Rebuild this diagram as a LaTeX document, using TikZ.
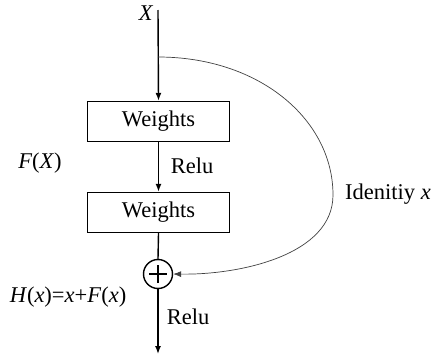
\documentclass[tikz,border=0pt]{standalone}
\usepackage{fontspec}
\setmainfont{Liberation Serif}
\usetikzlibrary{arrows.meta}
\begin{document}
\begin{tikzpicture}[x=1pt,y=-1pt,
  every node/.style={font=\fontsize{22.5}{26}\selectfont, inner sep=0pt},
  wbox/.style={draw, line width=1.4pt, minimum width=142pt, minimum height=40pt},
  sumnode/.style={draw, circle, line width=1.4pt, minimum size=29pt,
    path picture={\draw[line width=1.2pt] ([xshift=-9pt]path picture bounding box.center) -- ([xshift=9pt]path picture bounding box.center);
                  \draw[line width=1.2pt] ([yshift=-9pt]path picture bounding box.center) -- ([yshift=9pt]path picture bounding box.center);}},
  flow/.style={line width=1.4pt, -{Latex[length=8pt,width=6pt]}},
  skip/.style={line width=0.7pt, draw=black!75, -{Latex[length=8pt,width=6pt]}}]
\useasboundingbox (0,0) rectangle (432,362);
\node (x) at (146,13) {\textit{X}};
\coordinate (top) at (158,10);
\coordinate (split) at (158,57);
\node[wbox] (w1) at (158.5,121.5) {Weights};
\node[wbox] (w2) at (158.5,212.5) {Weights};
\node[sumnode] (sum) at (158,274) {};
\coordinate (out) at (158,354);
\draw[flow] (top) -- (w1.north);
\draw[flow] (w1.south) -- (w2.north);
\draw[line width=1.4pt] (w2.south) -- (sum.north);
\draw[flow] (sum.south) -- (out);
\draw[skip] (split) .. controls (260,57) and (333,120) .. (333,195)
  .. controls (333,255) and (240,275) .. (sum.east);
\node (fx) at (40,163) {\textit{F}(\textit{X})};
\node (relu1) at (192,166) {Relu};
\node (id) at (388,194) {Idenitiy \textit{x}};
\node (hx) at (68,297) {\textit{H}(\textit{x})=\textit{x}+\textit{F}(\textit{x})};
\node (relu2) at (188,317) {Relu};
\end{tikzpicture}
\end{document}
